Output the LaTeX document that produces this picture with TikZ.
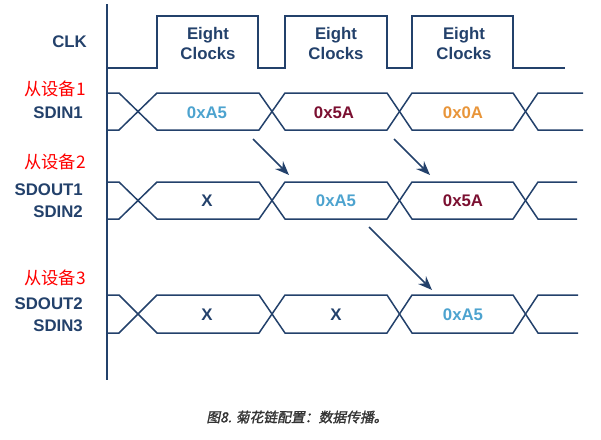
\documentclass[tikz,border=0pt]{standalone}
\usepackage{fontspec}
\setmainfont{Liberation Sans}
\newfontfamily\cjk{Noto Sans CJK SC}
\newfontfamily\cjkcap[FakeSlant=0.2,FakeBold=1.5]{Noto Sans CJK SC}
\usetikzlibrary{arrows.meta}
\definecolor{navy}{HTML}{23416B}
\definecolor{vblue}{HTML}{4DA3CF}
\definecolor{vmaroon}{HTML}{7B1031}
\definecolor{vorange}{HTML}{E8953A}
\definecolor{capgray}{HTML}{333333}
\newcommand\busrow[3]{%
  \draw[wave] (107,#1) -- (119,#1) -- (157,#2) -- (259,#2) -- (285,#1) -- (387,#1) -- (412,#2) -- (513,#2) -- (538,#1) -- (#3,#1);
  \draw[wave] (107,#2) -- (119,#2) -- (157,#1) -- (259,#1) -- (285,#2) -- (387,#2) -- (412,#1) -- (513,#1) -- (538,#2) -- (#3,#2);}
\begin{document}
\begin{tikzpicture}[x=1pt,y=-1pt,
  wave/.style={draw=navy,line width=1.5pt},
  axisline/.style={draw=navy,line width=1.3pt},
  sig/.style={font=\fontsize{16.8}{20}\selectfont\bfseries,text=navy,anchor=east,inner sep=0pt},
  dev/.style={font=\cjk\fontsize{17.3}{20}\selectfont,text=red,anchor=east,inner sep=0pt},
  val/.style={font=\fontsize{16.8}{20}\selectfont\bfseries,inner sep=0pt},
  clk/.style={font=\fontsize{16.8}{20}\selectfont\bfseries,text=navy,align=center,inner sep=0pt},
  flow/.style={draw=navy,line width=1.5pt,-{Stealth[length=14pt,width=11pt]}}]
\useasboundingbox (0,0) rectangle (601,439);
% axis
\draw[axisline] (107,4) -- (107,380);
% clock
\draw[wave] (107,68) -- (157,68) -- (157,16) -- (258,16) -- (258,68) -- (285,68) -- (285,16) -- (387,16) -- (387,68) -- (412,68) -- (412,16) -- (513,16) -- (513,68) -- (565,68);
\node[clk] (c1) at (208,43) {Eight\\Clocks};
\node[clk] (c2) at (336,43) {Eight\\Clocks};
\node[clk] (c3) at (464,43) {Eight\\Clocks};
% buses
\busrow{93}{130}{583}
\busrow{182}{219}{577}
\busrow{295}{333}{578}
% labels
\node[sig] (lclk) at (87,42) {CLK};
\node[dev] (d1) at (86,89) {从设备1};
\node[sig] (s1) at (83,113) {SDIN1};
\node[dev] (d2) at (86,162) {从设备2};
\node[sig] (s2a) at (83,190) {SDOUT1};
\node[sig] (s2b) at (83,212) {SDIN2};
\node[dev] (d3) at (86,278) {从设备3};
\node[sig] (s3a) at (83,304) {SDOUT2};
\node[sig] (s3b) at (83,326) {SDIN3};
% values
\node[val,text=vblue] (v11) at (207,113) {0xA5};
\node[val,text=vmaroon] (v12) at (334,113) {0x5A};
\node[val,text=vorange] (v13) at (463,113) {0x0A};
\node[val,text=navy] (v21) at (207,201) {X};
\node[val,text=vblue] (v22) at (336,201) {0xA5};
\node[val,text=vmaroon] (v23) at (463,201) {0x5A};
\node[val,text=navy] (v31) at (207,315) {X};
\node[val,text=navy] (v32) at (336,315) {X};
\node[val,text=vblue] (v33) at (463,315) {0xA5};
% arrows
\coordinate (a1s) at (253,139); \coordinate (a1e) at (289,175);
\coordinate (a2s) at (394,139); \coordinate (a2e) at (430,175);
\coordinate (a3s) at (369,227); \coordinate (a3e) at (432,290);
\draw[flow] (a1s) -- (a1e);
\draw[flow] (a2s) -- (a2e);
\draw[flow] (a3s) -- (a3e);
% caption
\node[font=\cjkcap\fontsize{13.8}{15}\selectfont,text=capgray,inner sep=0pt] (cap) at (297,417) {图8. 菊花链配置：数据传播。};
\end{tikzpicture}
\end{document}
